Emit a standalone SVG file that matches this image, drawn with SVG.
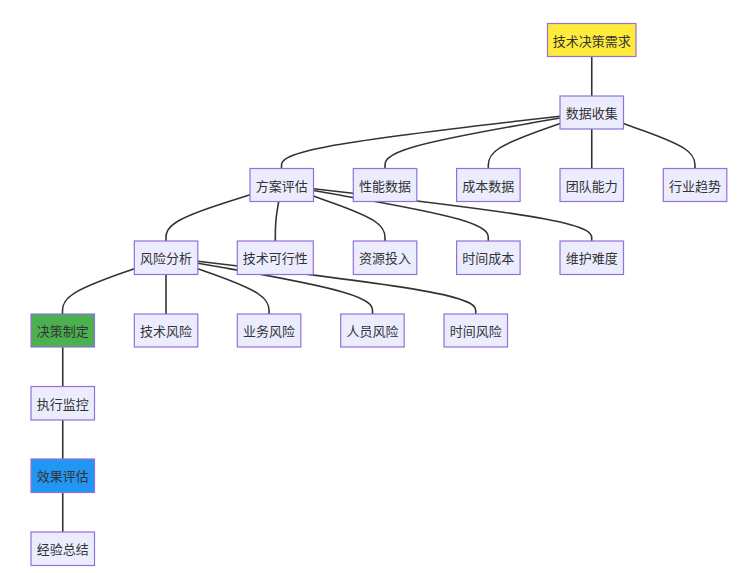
<svg xmlns="http://www.w3.org/2000/svg" width="739" height="573" viewBox="0 0 739 573">
<style>
.n rect{fill:#ECECFF;stroke:#9370DB;stroke-width:1.2}
.n text{font-family:"Noto Sans CJK SC","Liberation Sans",sans-serif;font-size:13px;fill:#333;text-anchor:middle;dominant-baseline:central}
.e path{fill:none;stroke:#333;stroke-width:1.6}
.yellow rect{fill:#FFEB3B}
.green rect{fill:#4CAF50}
.blue rect{fill:#2196F3}
</style>
<rect width="739" height="573" fill="#fff"/>
<g id="connectors" class="e">
<path d="M591.75,56.5 L591.75,96"/>
<path d="M560,116.2 L513.58,121.58 C467.17,126.97 374.33,137.73 327.92,146.45 C281.5,155.17 281.5,161.83 281.5,165.17 L281.5,168.5"/>
<path d="M560,118 L530.83,123.08 C501.67,128.17 443.33,138.33 414.17,146.75 C385,155.17 385,161.83 385,165.17 L385,168.5"/>
<path d="M560,123.5 L548.05,127.67 C536.1,131.83 512.2,140.17 500.25,147.67 C488.3,155.17 488.3,161.83 488.3,165.17 L488.3,168.5"/>
<path d="M591.75,129 L591.75,168.5"/>
<path d="M623.5,123.5 L635,127.67 C647,131.83 671,140.17 683,147.67 C695,155.17 695,161.83 695,165.17 L695,168.5"/>
<path d="M250,194.8 L236,199.17 C222,203.53 194,212.27 180,219.97 C166,227.67 166,234.33 166,237.67 L166,241"/>
<path d="M278.7,201.5 L278.13,204.75 C277.57,208 276.43,214.5 275.87,221.08 C275.3,227.67 275.3,234.33 275.3,237.67 L275.3,241"/>
<path d="M313.5,196 L325,200.17 C337,204.33 361,212.67 373,220.17 C385,227.67 385,234.33 385,237.67 L385,241"/>
<path d="M313.5,190.5 L342.22,195.58 C371.43,200.67 429.87,210.83 459.08,219.25 C488.3,227.67 488.3,234.33 488.3,237.67 L488.3,241"/>
<path d="M313.5,188.7 L359.45,194.08 C405.9,199.47 498.8,210.23 545.25,218.95 C591.7,227.67 591.7,234.33 591.7,237.67 L591.7,241"/>
<path d="M134.3,268.8 L122.08,273 C110.17,277.2 86.33,285.6 74.42,293.13 C62.5,300.67 62.5,307.33 62.5,310.67 L62.5,314"/>
<path d="M166,274.5 L166,314"/>
<path d="M197.8,268.8 L209.83,273 C221.67,277.2 245.33,285.6 257.17,293.13 C269,300.67 269,307.33 269,310.67 L269,314"/>
<path d="M197.8,263.2 L227.08,268.33 C256.17,273.47 314.33,283.73 343.42,292.2 C372.5,300.67 372.5,307.33 372.5,310.67 L372.5,314"/>
<path d="M197.8,261.3 L244.28,266.75 C290.57,272.2 383.13,283.1 429.42,291.88 C475.7,300.67 475.7,307.33 475.7,310.67 L475.7,314"/>
<path d="M62.75,347 L62.75,386.5"/>
<path d="M62.75,420 L62.75,459"/>
<path d="M62.75,492.5 L62.75,532"/>
</g>
<g id="n1" class="n yellow"><rect x="547.5" y="23.5" width="88.5" height="33"/><text x="591.75" y="40">技术决策需求</text></g>
<g id="n2" class="n"><rect x="560" y="96" width="63.5" height="33"/><text x="591.75" y="112.5">数据收集</text></g>
<g id="n3" class="n"><rect x="250" y="168.5" width="63.5" height="33"/><text x="281.75" y="185">方案评估</text></g>
<g id="n4" class="n"><rect x="353.3" y="168.5" width="63.5" height="33"/><text x="385" y="185">性能数据</text></g>
<g id="n5" class="n"><rect x="456.6" y="168.5" width="63.5" height="33"/><text x="488.3" y="185">成本数据</text></g>
<g id="n6" class="n"><rect x="560" y="168.5" width="63.5" height="33"/><text x="591.75" y="185">团队能力</text></g>
<g id="n7" class="n"><rect x="663.3" y="168.5" width="63.5" height="33"/><text x="695" y="185">行业趋势</text></g>
<g id="n8" class="n"><rect x="134.3" y="241" width="63.5" height="33.5"/><text x="166" y="257.5">风险分析</text></g>
<g id="n9" class="n"><rect x="237.3" y="241" width="76" height="33.5"/><text x="275.3" y="257.5">技术可行性</text></g>
<g id="n10" class="n"><rect x="353.3" y="241" width="63.5" height="33.5"/><text x="385" y="257.5">资源投入</text></g>
<g id="n11" class="n"><rect x="456.6" y="241" width="63.5" height="33.5"/><text x="488.3" y="257.5">时间成本</text></g>
<g id="n12" class="n"><rect x="560" y="241" width="63.5" height="33.5"/><text x="591.75" y="257.5">维护难度</text></g>
<g id="n13" class="n green"><rect x="31" y="314" width="63.5" height="33"/><text x="62.75" y="330.5">决策制定</text></g>
<g id="n14" class="n"><rect x="134.3" y="314" width="63.5" height="33"/><text x="166" y="330.5">技术风险</text></g>
<g id="n15" class="n"><rect x="237.3" y="314" width="63.5" height="33"/><text x="269" y="330.5">业务风险</text></g>
<g id="n16" class="n"><rect x="340.7" y="314" width="63.5" height="33"/><text x="372.5" y="330.5">人员风险</text></g>
<g id="n17" class="n"><rect x="444" y="314" width="63.5" height="33"/><text x="475.7" y="330.5">时间风险</text></g>
<g id="n18" class="n"><rect x="31" y="386.5" width="63.5" height="33.5"/><text x="62.75" y="403.25">执行监控</text></g>
<g id="n19" class="n blue"><rect x="31" y="459" width="63.5" height="33.5"/><text x="62.75" y="475.75">效果评估</text></g>
<g id="n20" class="n"><rect x="31" y="532" width="63.5" height="33.5"/><text x="62.75" y="548.75">经验总结</text></g>
</svg>
